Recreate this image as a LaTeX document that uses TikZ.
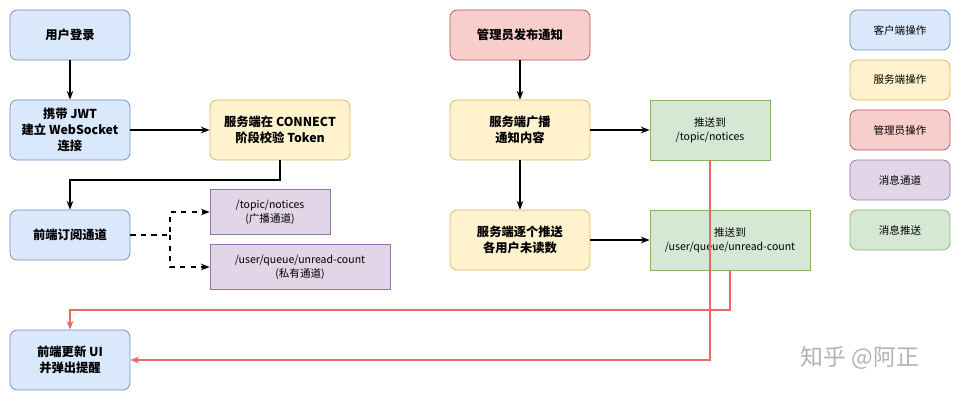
\documentclass[tikz,border=0pt]{standalone}
\usepackage{fontspec}
\setmainfont{Noto Sans CJK SC}
\usetikzlibrary{arrows.meta}
\definecolor{bfill}{HTML}{DAE8FC}\definecolor{bdraw}{HTML}{6C8EBF}
\definecolor{yfill}{HTML}{FFF2CC}\definecolor{ydraw}{HTML}{D6B656}
\definecolor{rfill}{HTML}{F8CECC}\definecolor{rdraw}{HTML}{B85450}
\definecolor{pfill}{HTML}{E1D5E7}\definecolor{pdraw}{HTML}{9673A6}
\definecolor{gfill}{HTML}{D5E8D4}\definecolor{gdraw}{HTML}{82B366}
\definecolor{redline}{HTML}{EA6B66}
\tikzset{
  box/.style={draw,rounded corners=4pt,align=center,font=\bfseries\fontsize{7}{9}\selectfont,inner sep=0pt},
  small/.style={draw,align=center,font=\fontsize{6}{8}\selectfont,inner sep=0pt},
  client/.style={box,fill=bfill,draw=bdraw},
  server/.style={box,fill=yfill,draw=ydraw},
  admin/.style={box,fill=rfill,draw=rdraw},
  chan/.style={small,fill=pfill,draw=pdraw},
  push/.style={small,fill=gfill,draw=gdraw},
  legend/.style={small,rounded corners=4pt,minimum width=2cm,minimum height=0.8cm},
  arr/.style={-{Stealth[length=5pt]},thick},
}
\begin{document}
\begin{tikzpicture}[x=0.02cm,y=-0.02cm]
		\useasboundingbox (0,0) rectangle (961,401);
		%left column
		\node [client,minimum width=2.4cm,minimum height=1cm] (login) at (70,35) {用户登录};
		\node [client,minimum width=2.4cm,minimum height=1.2cm] (jwt) at (70,130) {携带 JWT\\建立 WebSocket\\连接};
		\node [server,minimum width=2.8cm,minimum height=1.2cm] (check) at (280,130) {服务端在 CONNECT\\阶段校验 Token};
		\node [client,minimum width=2.4cm,minimum height=1cm] (sub) at (70,235) {前端订阅通道};
		\node [chan,minimum width=2.4cm,minimum height=0.9cm] (topic) at (270,212) {/topic/notices\\(广播通道)};
		\node [chan,minimum width=3.6cm,minimum height=0.9cm] (queue) at (300,267) {/user/queue/unread-count\\(私有通道)};
		\node [client,minimum width=2.4cm,minimum height=1.2cm] (ui) at (70,360) {前端更新 UI\\并弹出提醒};
		%right column
		\node [admin,minimum width=2.8cm,minimum height=1cm] (pub) at (520,35) {管理员发布通知};
		\node [server,minimum width=2.8cm,minimum height=1.2cm] (bcast) at (520,130) {服务端广播\\通知内容};
		\node [push,minimum width=2.4cm,minimum height=1.2cm] (ptopic) at (710,130) {推送到\\/topic/notices};
		\node [server,minimum width=2.8cm,minimum height=1.2cm] (each) at (520,240) {服务端逐个推送\\各用户未读数};
		\node [push,minimum width=3.2cm,minimum height=1.2cm] (pqueue) at (730,240) {推送到\\/user/queue/unread-count};
		%legend
		\node [legend,fill=bfill,draw=bdraw] (l1) at (900,30) {客户端操作};
		\node [legend,fill=yfill,draw=ydraw] (l2) at (900,80) {服务端操作};
		\node [legend,fill=rfill,draw=rdraw] (l3) at (900,130) {管理员操作};
		\node [legend,fill=pfill,draw=pdraw] (l4) at (900,180) {消息通道};
		\node [legend,fill=gfill,draw=gdraw] (l5) at (900,230) {消息推送};
		\node [text=gray!60,font=\fontsize{13}{15}\selectfont] (mark) at (860,358) {知乎 @阿正};
		%arrows
		\draw [arr] (login) -- (jwt);
		\draw [arr] (jwt) -- (check);
		\draw [arr] (check.south) |- (70,180) -- (sub.north);
		\draw [arr,dashed] (sub.east) -- (170,235) |- (topic.west);
		\draw [arr,dashed] (170,235) |- (queue.west);
		\draw [arr] (pub) -- (bcast);
		\draw [arr] (bcast) -- (ptopic);
		\draw [arr] (bcast) -- (each);
		\draw [arr] (each) -- (pqueue);
		\draw [arr,redline] (ptopic.south) |- (ui.east);
		\draw [arr,redline] (pqueue.south) |- (70,310) -- (ui.north);
		\end{tikzpicture}
\end{document}
